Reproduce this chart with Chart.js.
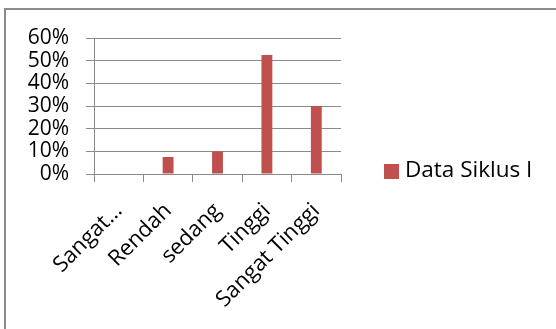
<!DOCTYPE html>
<html>
<head>
<meta charset="utf-8">
<script src="https://cdn.jsdelivr.net/npm/chart.js@4/dist/chart.umd.min.js"></script>
<style>
  html, body { margin: 0; padding: 0; background: #fff; overflow: hidden; }
  #wrap { position: relative; width: 556px; height: 329px; }
  #frame { position: absolute; left: 4px; top: 8px; width: 600px; height: 400px;
           border-left: 2px solid #8c8c8c; border-top: 2px solid #8c8c8c; }
  #chart { position: absolute; left: 0; top: 0; }
</style>
</head>
<body>
<div id="wrap">
  <div id="frame"></div>
  <canvas id="chart" width="556" height="329"></canvas>
</div>
<script>
// kategori dan nilai persentase siklus I
const categories = ['Sangat…', 'Rendah', 'sedang', 'Tinggi', 'Sangat Tinggi'];
const siklusI = [0, 7.5, 10, 52.5, 30];
const yTicks = [0, 10, 20, 30, 40, 50, 60];
const seriesName = 'Data Siklus I';
const barColor = '#c0504d';
const gridColor = '#8a8a8a';
const FONT = "'Open Sans', 'Noto Sans', sans-serif";

// legenda digambar sendiri di sisi kanan
const sideLegend = {
  id: 'sideLegend',
  afterDraw(chart) {
    const ctx = chart.ctx;
    const ds = chart.data.datasets[0];
    ctx.save();
    ctx.fillStyle = ds.backgroundColor;
    ctx.fillRect(384, 164, 15, 15);
    ctx.fillStyle = '#000';
    ctx.font = '22.5px ' + FONT;
    ctx.textBaseline = 'middle';
    ctx.textAlign = 'left';
    ctx.fillText(ds.label, 405, 171);
    ctx.restore();
  }
};

new Chart(document.getElementById('chart'), {
  type: 'bar',
  data: {
    labels: categories,
    datasets: [{
      label: seriesName,
      data: siklusI,
      backgroundColor: barColor,
      borderWidth: 0,
      barPercentage: 0.22,
      categoryPercentage: 1
    }]
  },
  options: {
    responsive: false,
    animation: false,
    layout: { padding: { left: 0, top: 38, right: 215, bottom: 0 } },
    plugins: { legend: { display: false }, tooltip: { enabled: false } },
    scales: {
      x: {
        grid: { offset: true, drawOnChartArea: false, color: gridColor, tickLength: 8 },
        border: { color: gridColor },
        ticks: {
          autoSkip: false, minRotation: 45, maxRotation: 45, padding: 16,
          color: '#000', font: { family: FONT, size: 22 }
        },
        afterFit(scale) { scale.height = 155; }
      },
      y: {
        min: 0, max: 60,
        afterBuildTicks(scale) { scale.ticks = yTicks.map(v => ({ value: v })); },
        grid: { color: gridColor, tickLength: 8 },
        border: { color: gridColor },
        ticks: {
          autoSkip: false, padding: 17, color: '#000', font: { family: FONT, size: 21 },
          callback: v => v + '%'
        },
        afterFit(scale) { scale.width = 94; }
      }
    }
  },
  plugins: [sideLegend]
});
</script>
</body>
</html>
